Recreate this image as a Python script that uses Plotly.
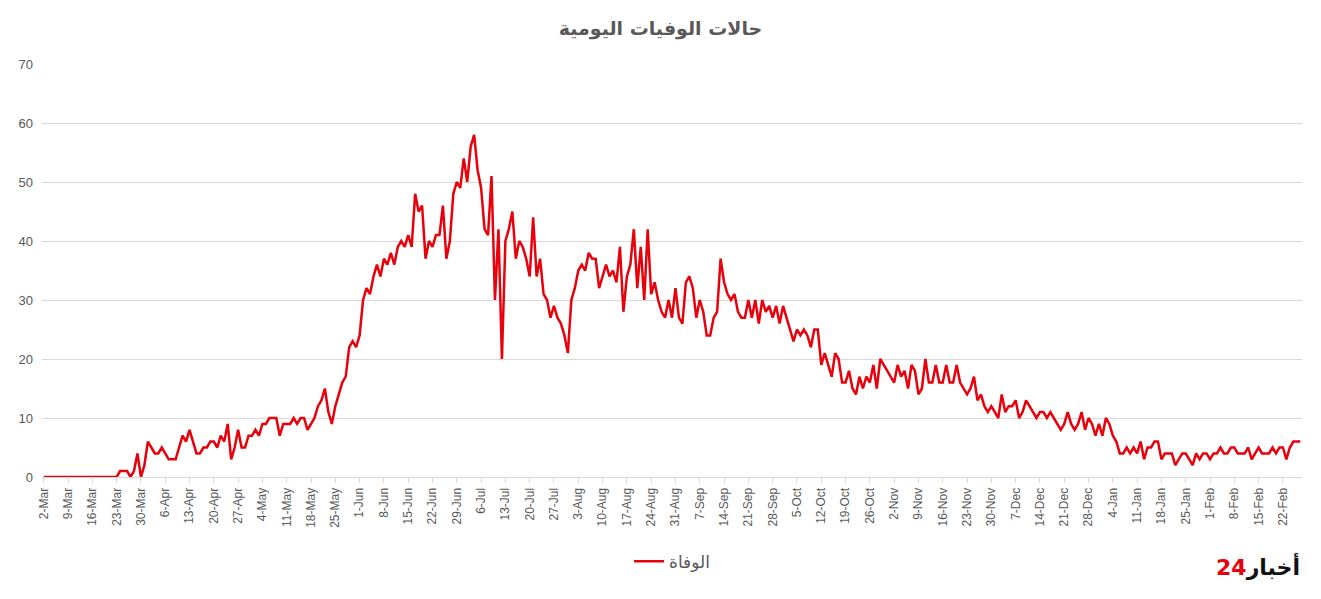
import plotly.graph_objects as go
import pandas as pd

start_date = "2020-03-02"
deaths = [
0,0,0,0,0,0,0,
0,0,0,0,0,0,0,
0,0,0,0,0,0,0,
0,1,1,1,0,1,4,
0,2,6,5,4,4,5,
4,3,3,3,5,7,6,
8,6,4,4,5,5,6,
6,5,7,6,9,3,5,
8,5,5,7,7,8,7,
9,9,10,10,10,7,9,
9,9,10,9,10,10,8,
9,10,12,13,15,11,9,
12,14,16,17,22,23,22,
24,30,32,31,34,36,34,
37,36,38,36,39,40,39,
41,39,48,45,46,37,40,
39,41,41,46,37,40,48,
50,49,54,50,56,58,52,
49,42,41,51,30,42,20,
40,42,45,37,40,39,37,
34,44,34,37,31,30,27,
29,27,26,24,21,30,32,
35,36,35,38,37,37,32,
34,36,34,35,33,39,28,
34,36,42,32,39,30,42,
31,33,30,28,27,30,27,
32,27,26,33,34,32,27,
30,28,24,24,27,28,37,
33,31,30,31,28,27,27,
30,27,30,26,30,28,29,
27,29,26,29,27,25,23,
25,24,25,24,22,25,25,
19,21,19,17,21,20,16,
16,18,15,14,17,15,17,
16,19,15,20,19,18,17,
16,19,17,18,15,19,18,
14,15,20,16,16,19,16,
16,19,16,16,19,16,15,
14,15,17,13,14,12,11,
12,11,10,14,11,12,12,
13,10,11,13,12,11,10,
11,11,10,11,10,9,8,
9,11,9,8,9,11,8,
10,9,7,9,7,10,9,
7,6,4,4,5,4,5,
4,6,3,5,5,6,6,
3,4,4,4,2,3,4,
4,3,2,4,3,4,4,
3,4,4,5,4,4,5,
5,4,4,4,5,3,4,
5,4,4,4,5,4,5,
5,3,5,6,6,6,
]
series_name = "الوفاة"
title_text = "حالات الوفيات اليومية"

dates = pd.date_range(start_date, periods=len(deaths), freq="D")

fig = go.Figure(go.Scatter(x=dates, y=deaths, mode="lines", name=series_name,
                           line=dict(color="#e8000b", width=2.5)))
fig.update_layout(
    width=1305, height=583, paper_bgcolor="white", plot_bgcolor="white",
    margin=dict(l=34, r=11, t=56, b=111),
    title=dict(text="<b>"+title_text+"</b>", x=0.5, xanchor="center", y=0.965, yanchor="middle",
               font=dict(family="DejaVu Sans", size=19, color="#595959")),
    font=dict(family="Liberation Sans", color="#595959"),
    showlegend=True,
    legend=dict(orientation="h", x=0.5, xanchor="center", y=-0.205, yanchor="middle",
                font=dict(size=17, color="#595959", family="DejaVu Sans")),
)
fig.update_xaxes(type="date", tick0=start_date, dtick=7*86400000, tickformat="%-d-%b",
                 tickangle=-90, tickfont=dict(size=12),
                 range=[dates[0]-pd.Timedelta(hours=12), dates[-1]+pd.Timedelta(hours=12)],
                 showgrid=False, showline=True, linecolor="#d9d9d9",
                 ticks="outside", tickcolor="#d9d9d9", ticklen=5)
fig.update_yaxes(range=[0, 70], dtick=10, gridcolor="#d9d9d9", zeroline=False,
                 tickfont=dict(size=13), ticklabelstandoff=8)
fig.add_annotation(xref="paper", yref="paper", x=1.0, y=-0.215, xanchor="right", yanchor="middle",
                   text="<b><span style='color:#111'>أخبار</span><span style='color:#e8000b'>24</span></b>",
                   showarrow=False, font=dict(size=22, family="DejaVu Sans"))
fig.write_html("out.html")
